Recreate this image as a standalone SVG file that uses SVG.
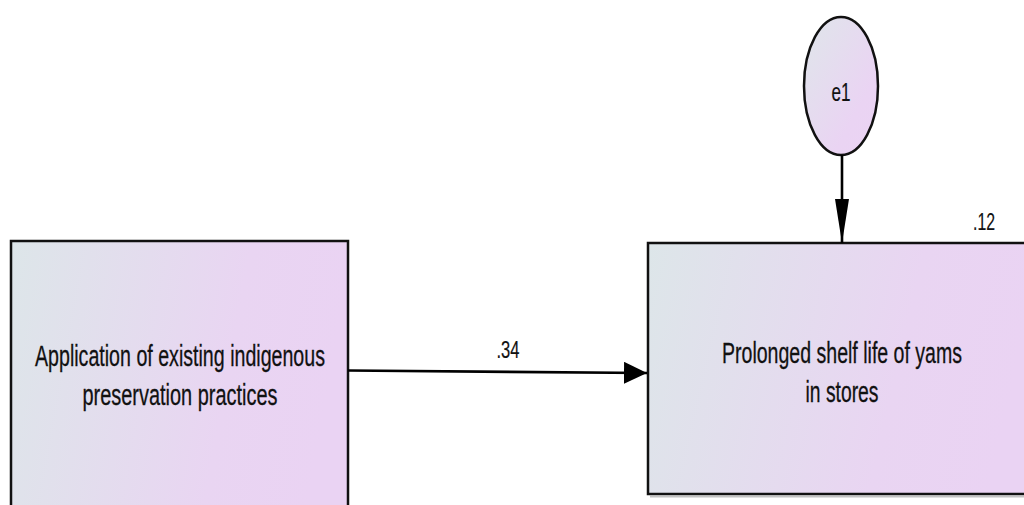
<svg xmlns="http://www.w3.org/2000/svg" width="1024" height="505" viewBox="0 0 1024 505">
  <style>
    .box { stroke: #111; stroke-width: 2.5; }
    .shadow { fill: none; stroke: #9a9a9a; stroke-width: 2; opacity: 0.6; }
    .lbl { font-family: "Liberation Sans", Arial, sans-serif; font-size: 30px; fill: #111; stroke: #111; stroke-width: 0.3; text-anchor: middle; }
    .num { font-family: "Liberation Sans", Arial, sans-serif; font-size: 24px; fill: #111; stroke: #111; stroke-width: 0.2; text-anchor: middle; }
    .conn { stroke: #000; stroke-width: 2.6; fill: none; }
  </style>
  <defs>
    <linearGradient id="gBox" x1="0" y1="0" x2="1" y2="0.15">
      <stop offset="0" stop-color="#dde6e9"/>
      <stop offset="0.7" stop-color="#e9d5f2"/>
      <stop offset="1" stop-color="#ead3f3"/>
    </linearGradient>
    <linearGradient id="gEll" x1="0" y1="0" x2="1" y2="1">
      <stop offset="0" stop-color="#dfe6ea"/>
      <stop offset="0.7" stop-color="#ead4f3"/>
      <stop offset="1" stop-color="#ebd3f4"/>
    </linearGradient>
    <marker id="ah" markerWidth="23" markerHeight="22" refX="23" refY="11" orient="auto" markerUnits="userSpaceOnUse">
      <path d="M0,0 L23,11 L0,22 Z" fill="#000"/>
    </marker>
    <marker id="ahv" markerWidth="44" markerHeight="14" refX="44" refY="7" orient="auto" markerUnits="userSpaceOnUse">
      <path d="M0,0 L44,7 L0,14 Z" fill="#000"/>
    </marker>
  </defs>

  <g id="node-application">
    <rect x="11" y="241" width="337" height="280" fill="url(#gBox)" class="box"/>
    <text class="lbl" x="180" y="366" textLength="290" lengthAdjust="spacingAndGlyphs">Application of existing indigenous</text>
    <text class="lbl" x="180" y="405" textLength="195" lengthAdjust="spacingAndGlyphs">preservation practices</text>
  </g>

  <g id="node-shelf-life">
    <rect x="648" y="243" width="390" height="251" fill="url(#gBox)" class="box"/>
    <line x1="650" y1="496.5" x2="1024" y2="496.5" class="shadow"/>
    <text class="lbl" x="842" y="363" textLength="240" lengthAdjust="spacingAndGlyphs">Prolonged shelf life of yams</text>
    <text class="lbl" x="842" y="402" textLength="73" lengthAdjust="spacingAndGlyphs">in stores</text>
    <text class="num" x="984" y="230" textLength="22" lengthAdjust="spacingAndGlyphs">.12</text>
  </g>

  <g id="node-e1">
    <ellipse cx="841" cy="86" rx="37" ry="69" fill="url(#gEll)" class="box"/>
    <text class="num" x="841" y="100.5" style="font-size:25px" textLength="19" lengthAdjust="spacingAndGlyphs">e1</text>
  </g>

  <g id="connectors">
    <line x1="348" y1="370.5" x2="647" y2="373" class="conn" marker-end="url(#ah)"/>
    <text class="num" x="508" y="358" textLength="23" lengthAdjust="spacingAndGlyphs">.34</text>
    <line x1="842" y1="155" x2="842" y2="243" class="conn" marker-end="url(#ahv)"/>
  </g>
</svg>
